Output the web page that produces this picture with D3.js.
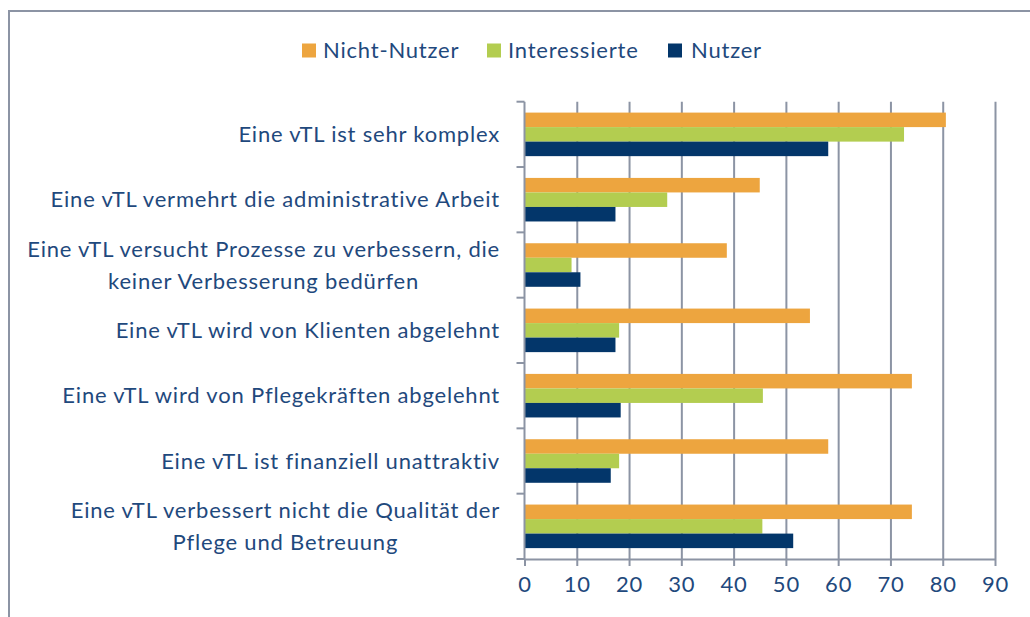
<!DOCTYPE html>
<html>
<head>
<meta charset="utf-8">
<script src="https://cdn.jsdelivr.net/npm/d3@7/dist/d3.min.js"></script>
<style>
  html, body { margin: 0; padding: 0; background: #fff; }
  svg { display: block; }
  text { font-family: Lato, "Open Sans", sans-serif; fill: #1f497d; font-variant-ligatures: none; }
</style>
</head>
<body>
<svg id="chart" width="1030" height="617"></svg>
<script>
// ---- Data ----
const categories = [
  "Eine vTL ist sehr komplex",
  "Eine vTL vermehrt die administrative Arbeit",
  "Eine vTL versucht Prozesse zu verbessern, die\nkeiner Verbesserung bedürfen",
  "Eine vTL wird von Klienten abgelehnt",
  "Eine vTL wird von Pflegekräften abgelehnt",
  "Eine vTL ist finanziell unattraktiv",
  "Eine vTL verbessert nicht die Qualität der\nPflege und Betreuung"
];
const seriesNames = ["Nicht-Nutzer", "Interessierte", "Nutzer"];
const nichtNutzer  = [80.6, 45.0, 38.7, 54.6, 74.1, 58.1, 74.1];
const interessierte = [72.6, 27.3, 9.0, 18.1, 45.6, 18.1, 45.5];
const nutzer       = [58.1, 17.4, 10.7, 17.4, 18.4, 16.5, 51.4];
const tickValues = [0, 10, 20, 30, 40, 50, 60, 70, 80, 90];
const colors = ["#eda53f", "#b3cd50", "#03366a"];

const seriesValues = [nichtNutzer, interessierte, nutzer];

// ---- Layout ----
const svg = d3.select("#chart");
const axisColor = "#8c94a4";
const pLeft = 524.5, pRight = 995, pTop = 101.7, pBottom = 559;
const fs = 22, ls = "0.8px";

// outer frame
svg.append("rect")
  .attr("x", 9).attr("y", 11)
  .attr("width", 1040).attr("height", 640)
  .attr("fill", "none").attr("stroke", axisColor).attr("stroke-width", 2);

const x = d3.scaleLinear().domain([0, 90]).range([pLeft, pRight]);
const y = d3.scaleBand().domain(categories).range([pTop, pBottom])
  .paddingInner(1/3).paddingOuter(1/6);
const y1 = d3.scaleBand().domain(seriesNames).range([0, y.bandwidth()]);

// gridlines
const grid = svg.append("g").attr("transform", `translate(0,${pBottom})`)
  .call(d3.axisBottom(x).tickValues(tickValues.slice(1)).tickSize(-(pBottom - pTop)).tickFormat(""));
grid.select(".domain").remove();
grid.selectAll("line").attr("stroke", axisColor).attr("stroke-width", 2);

// bars
seriesNames.forEach((s, si) => {
  svg.append("g").selectAll("rect")
    .data(categories.map((c, i) => ({ c, v: seriesValues[si][i] })))
    .join("rect")
    .attr("x", x(0))
    .attr("y", d => y(d.c) + y1(s))
    .attr("width", d => x(d.v) - x(0))
    .attr("height", y1.bandwidth())
    .attr("fill", colors[si]);
});

// x axis
const xAxis = svg.append("g").attr("transform", `translate(0,${pBottom})`)
  .call(d3.axisBottom(x).tickValues(tickValues).tickSize(7).tickPadding(10).tickSizeOuter(0));
xAxis.select(".domain").attr("stroke", axisColor).attr("stroke-width", 2);
xAxis.selectAll("line").attr("stroke", axisColor).attr("stroke-width", 2);
xAxis.selectAll("text")
  .attr("font-size", fs).attr("fill", "#1f497d")
  .style("font-family", "Lato, 'Open Sans', sans-serif")
  .style("letter-spacing", ls);

// y axis line and boundary ticks
const yAxisG = svg.append("g");
yAxisG.append("line")
  .attr("x1", x(0)).attr("x2", x(0)).attr("y1", pTop).attr("y2", pBottom)
  .attr("stroke", axisColor).attr("stroke-width", 2);
const step = y.step();
yAxisG.selectAll("line.tick")
  .data(d3.range(categories.length + 1))
  .join("line").attr("class", "tick")
  .attr("x1", x(0) - 8).attr("x2", x(0))
  .attr("y1", i => pTop + i * step).attr("y2", i => pTop + i * step)
  .attr("stroke", axisColor).attr("stroke-width", 2);

// category labels
const lineH = 32;
categories.forEach(c => {
  const lines = c.split("\n");
  const cy = y(c) + y.bandwidth() / 2;
  const t = svg.append("text")
    .attr("text-anchor", lines.length > 1 ? "middle" : "end")
    .attr("font-size", fs)
    .style("letter-spacing", ls);
  lines.forEach((ln, k) => {
    t.append("tspan")
      .attr("x", 500)
      .attr("y", cy + (k - (lines.length - 1) / 2) * lineH)
      .attr("dy", "0.35em")
      .text(ln);
  });
  if (lines.length > 1) {
    const w = t.node().getBBox().width;
    t.selectAll("tspan").attr("x", 500 - w / 2);
  }
});

// legend
const legendItems = [
  { name: seriesNames[0], sx: 302, tx: 323 },
  { name: seriesNames[1], sx: 487, tx: 508 },
  { name: seriesNames[2], sx: 668, tx: 691 }
];
legendItems.forEach((d, i) => {
  svg.append("rect").attr("x", d.sx).attr("y", 43.5).attr("width", 14).attr("height", 14)
    .attr("fill", colors[i]);
  svg.append("text").attr("x", d.tx).attr("y", 50.5).attr("dy", "0.35em")
    .attr("font-size", fs).style("letter-spacing", ls).text(d.name);
});
</script>
</body>
</html>
